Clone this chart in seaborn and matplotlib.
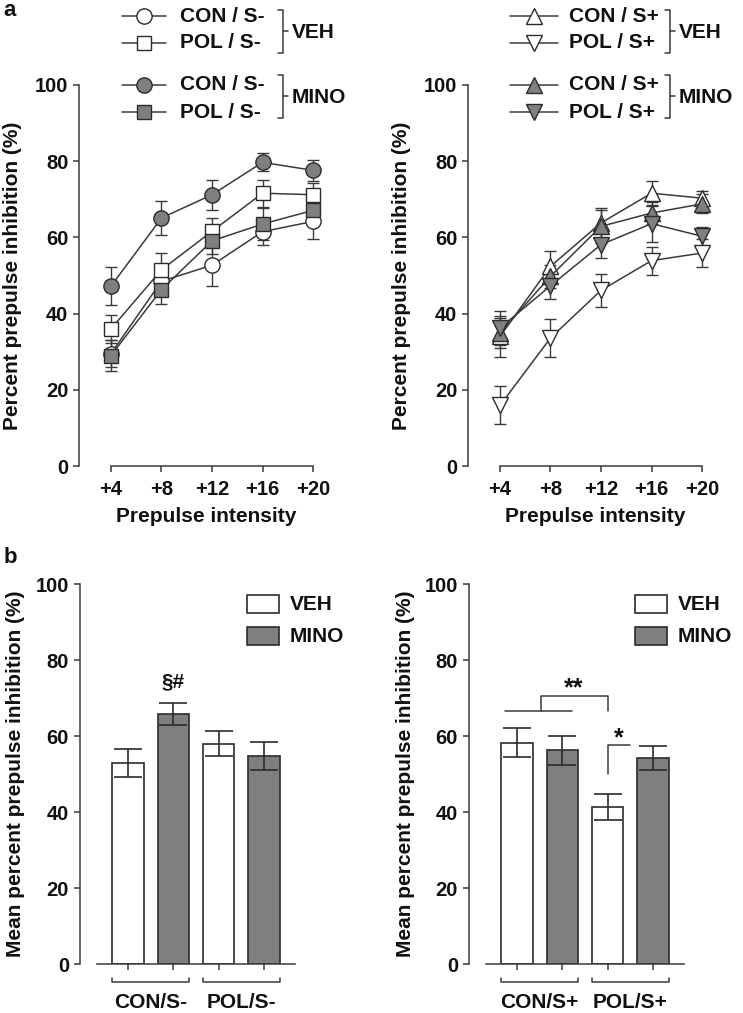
import numpy as np
import pandas as pd
import seaborn as sns
from matplotlib import pyplot as plt
from matplotlib.lines import Line2D
from matplotlib.patches import Rectangle

# ---- data ----
intensity = [4, 8, 12, 16, 20]
intensity_labels = ["+4", "+8", "+12", "+16", "+20"]

# panel a, left (S-)
con_sm_veh = [29.5, 48.5, 52.7, 61.5, 64.2]
con_sm_veh_sem = [3.5, 3.5, 5.5, 3.5, 4.5]
pol_sm_veh = [36.0, 51.5, 61.6, 71.6, 71.2]
pol_sm_veh_sem = [3.7, 4.3, 3.5, 3.5, 3.0]
con_sm_mino = [47.2, 65.1, 71.2, 79.7, 77.6]
con_sm_mino_sem = [5.0, 4.4, 3.9, 2.4, 2.7]
pol_sm_mino = [29.0, 46.3, 59.1, 63.5, 67.1]
pol_sm_mino_sem = [4.0, 3.9, 3.5, 4.2, 3.0]

# panel a, right (S+)
con_sp_veh = [34.0, 52.4, 63.8, 71.6, 70.3]
con_sp_veh_sem = [5.5, 4.0, 4.0, 3.2, 2.0]
pol_sp_veh = [15.9, 33.6, 46.1, 53.9, 55.9]
pol_sp_veh_sem = [5.0, 4.9, 4.4, 3.7, 3.8]
con_sp_mino = [34.9, 49.8, 62.9, 66.4, 68.8]
con_sp_mino_sem = [4.0, 3.0, 4.3, 3.0, 2.5]
pol_sp_mino = [36.2, 47.3, 58.1, 63.6, 60.3]
pol_sp_mino_sem = [4.5, 3.5, 3.5, 4.7, 2.5]

# panel b
bar_treatment = ["VEH", "MINO", "VEH", "MINO"]
groups_minus = ["CON/S-", "POL/S-"]
bars_minus = [53.0, 65.8, 58.0, 54.8]
bars_minus_sem = [3.7, 3.0, 3.2, 3.7]
groups_plus = ["CON/S+", "POL/S+"]
bars_plus = [58.2, 56.2, 41.3, 54.2]
bars_plus_sem = [3.8, 3.8, 3.5, 3.2]

W, H = 743, 1013
GRAY = "#7f7f7f"
EDGE = "#2b2b2b"
AXC = "#3a3a3a"
TXT = "#111111"
FS = 15

sns.set_theme(style="ticks")
plt.rcParams["font.family"] = ["Liberation Sans", "DejaVu Sans"]
plt.rcParams["font.weight"] = "bold"
plt.rcParams["axes.labelweight"] = "bold"

fig = plt.figure(figsize=(W / 100, H / 100), dpi=100)


def rect(left, top, right, bottom):
    return [left / W, 1 - bottom / H, (right - left) / W, (bottom - top) / H]


def px(x, y):
    return x / W, 1 - y / H


def style_axes(ax):
    for s in ["top", "right"]:
        ax.spines[s].set_visible(False)
    for s in ["left", "bottom"]:
        ax.spines[s].set_color(AXC)
        ax.spines[s].set_linewidth(1.1)
    ax.set_ylim(0, 100)
    ax.set_yticks([0, 20, 40, 60, 80, 100])
    ax.spines["left"].set_bounds(0, 100)
    ax.tick_params(axis="both", direction="out", length=4, width=1.1, color=AXC,
                   labelsize=FS - 0.5, labelcolor=TXT)
    ax.tick_params(axis="y", pad=4)
    ax.tick_params(axis="x", pad=6)
    for lab in ax.get_yticklabels() + ax.get_xticklabels():
        lab.set_fontweight("bold")


def line_panel(ax, series, ylabel_x):
    for vals, sems, mk, ms, face in series:
        ax.errorbar(intensity, vals, yerr=sems, fmt="none", ecolor=AXC,
                    elinewidth=1, capsize=4.5, capthick=1, zorder=2)
        sns.lineplot(x=intensity, y=vals, ax=ax, color=AXC, linewidth=1.1,
                     marker=mk, markersize=ms, markerfacecolor=face,
                     markeredgecolor=EDGE, markeredgewidth=1, zorder=3)
    ax.set_xlim(1.5, 21.5)
    ax.set_xticks(intensity)
    ax.set_xticklabels(intensity_labels)
    style_axes(ax)
    ax.spines["bottom"].set_bounds(4, 20)
    ax.set_xlabel("Prepulse intensity", fontsize=FS, fontweight="bold", color=TXT)
    ax.set_ylabel("Percent prepulse inhibition (%)", fontsize=FS, fontweight="bold",
                  color=TXT)
    ax.xaxis.set_label_coords(0.5, -0.108)
    ax.yaxis.set_label_coords(ylabel_x, 0.5)


def bar_panel(ax, groups, vals, sems, ylabel_x):
    df = pd.DataFrame({
        "bar": [f"{groups[i // 2]} {t}" for i, t in enumerate(bar_treatment)],
        "treatment": bar_treatment,
        "value": vals,
    })
    sns.barplot(data=df, x="bar", y="value", hue="treatment", dodge=False,
                palette={"VEH": "white", "MINO": GRAY}, width=0.69,
                edgecolor=EDGE, linewidth=1.2, legend=False, ax=ax, zorder=2)
    ax.errorbar(range(len(vals)), vals, yerr=sems, fmt="none", ecolor=EDGE,
                elinewidth=1.2, capsize=10, capthick=1.2, zorder=3)
    ax.set_xlim(-1.06, 3.7)
    ax.set_xticks(range(len(vals)))
    ax.set_xticklabels([])
    style_axes(ax)
    ax.spines["bottom"].set_bounds(-0.68, 3.68)
    ax.set_xlabel("")
    ax.set_ylabel("Mean percent prepulse inhibition (%)", fontsize=FS,
                  fontweight="bold", color=TXT)
    ax.yaxis.set_label_coords(ylabel_x, 0.5)
    # group brackets and labels under the axis
    for gi, g in enumerate(groups):
        x0, x1 = 2 * gi - 0.345, 2 * gi + 1.345
        ax.plot([x0, x0, x1, x1], [-3.7, -4.8, -4.8, -3.7], color=AXC, lw=1.1,
                clip_on=False)
        ax.text(2 * gi + 0.5, -10.2, g, ha="center", va="center", fontsize=FS,
                fontweight="bold", color=TXT)


def bar_legend(x0, y0):
    for i, (lab, face) in enumerate([("VEH", "white"), ("MINO", GRAY)]):
        top = y0 + i * 32
        fx, fy = px(x0, top + 18)
        fig.add_artist(Rectangle((fx, fy), 32 / W, 18 / H, transform=fig.transFigure,
                                 facecolor=face, edgecolor=EDGE, linewidth=1.2))
        tx, ty = px(x0 + 43, top + 9)
        fig.text(tx, ty, lab, ha="left", va="center", fontsize=FS, fontweight="bold",
                 color=TXT)


def key_legend(x_line0, x_line1, x_text, x_br, entries):
    rows = [16, 43, 85, 112]
    for (lab, mk, ms, face), y in zip(entries, rows):
        fig.add_artist(Line2D([x_line0 / W, x_line1 / W], [1 - y / H] * 2,
                              transform=fig.transFigure, color=AXC, lw=1.1))
        fig.add_artist(Line2D([(x_line0 + x_line1) / 2 / W], [1 - y / H],
                              transform=fig.transFigure, marker=mk, markersize=ms,
                              markerfacecolor=face, markeredgecolor=EDGE,
                              markeredgewidth=1, linestyle="none"))
        tx, ty = px(x_text, y)
        fig.text(tx, ty, lab, ha="left", va="center", fontsize=FS, fontweight="bold",
                 color=TXT)
    for (ya, yb), name in [((10, 53), "VEH"), ((75, 118), "MINO")]:
        xs = [x_br - 5, x_br, x_br, x_br - 5]
        ys = [ya, ya, yb, yb]
        fig.add_artist(Line2D([v / W for v in xs], [1 - v / H for v in ys],
                              transform=fig.transFigure, color=AXC, lw=1.1))
        ym = (ya + yb) / 2
        fig.add_artist(Line2D([x_br / W, (x_br + 5) / W], [1 - ym / H] * 2,
                              transform=fig.transFigure, color=AXC, lw=1.1))
        tx, ty = px(x_br + 9, ym + 1)
        fig.text(tx, ty, name, ha="left", va="center", fontsize=FS, fontweight="bold",
                 color=TXT)


# ---- panel a ----
ax_a1 = fig.add_axes(rect(79.4, 85, 332, 466))
line_panel(ax_a1, [
    (con_sm_veh, con_sm_veh_sem, "o", 11, "white"),
    (pol_sm_veh, pol_sm_veh_sem, "s", 10, "white"),
    (con_sm_mino, con_sm_mino_sem, "o", 11, GRAY),
    (pol_sm_mino, pol_sm_mino_sem, "s", 10, GRAY),
], ylabel_x=(22 - 79.4) / 252.6)

ax_a2 = fig.add_axes(rect(468.4, 85, 721, 466))
line_panel(ax_a2, [
    (con_sp_veh, con_sp_veh_sem, "^", 11, "white"),
    (pol_sp_veh, pol_sp_veh_sem, "v", 11, "white"),
    (con_sp_mino, con_sp_mino_sem, "^", 11, GRAY),
    (pol_sp_mino, pol_sp_mino_sem, "v", 11, GRAY),
], ylabel_x=(411 - 468.4) / 252.6)

key_legend(122, 166, 180, 283, [
    ("CON / S-", "o", 11, "white"), ("POL / S-", "s", 10, "white"),
    ("CON / S-", "o", 11, GRAY), ("POL / S-", "s", 10, GRAY)])
key_legend(510, 558, 569, 670, [
    ("CON / S+", "^", 11, "white"), ("POL / S+", "v", 11, "white"),
    ("CON / S+", "^", 11, GRAY), ("POL / S+", "v", 11, GRAY)])

# ---- panel b ----
ax_b1 = fig.add_axes(rect(80, 584, 295.7, 964))
bar_panel(ax_b1, groups_minus, bars_minus, bars_minus_sem, ylabel_x=(25 - 80) / 215.7)
ax_b1.text(1, 74.2, "§#", ha="center", va="center", fontsize=FS, fontweight="bold",
           color=TXT)

ax_b2 = fig.add_axes(rect(469, 584, 684.7, 964))
bar_panel(ax_b2, groups_plus, bars_plus, bars_plus_sem, ylabel_x=(415 - 469) / 215.7)
ax_b2.plot([-0.26, 1.21], [66.6, 66.6], color=AXC, lw=1.1)
ax_b2.plot([0.53, 0.53, 2.0, 2.0], [66.6, 70.5, 70.5, 66.6], color=AXC, lw=1.1)
ax_b2.text(1.26, 72.5, "**", ha="center", va="center", fontsize=FS + 3,
           fontweight="bold", color=TXT)
ax_b2.plot([2.0, 2.0, 2.5], [50.0, 57.6, 57.6], color=AXC, lw=1.1)
ax_b2.text(2.25, 59.5, "*", ha="center", va="center", fontsize=FS + 3,
           fontweight="bold", color=TXT)

bar_legend(247, 595)
bar_legend(635, 595)

fig.text(*px(3, 10), "a", ha="left", va="center", fontsize=FS + 1, fontweight="bold",
         color=TXT)
fig.text(*px(4, 557), "b", ha="left", va="center", fontsize=FS + 1, fontweight="bold",
         color=TXT)

fig.savefig("out.png", dpi=100)
